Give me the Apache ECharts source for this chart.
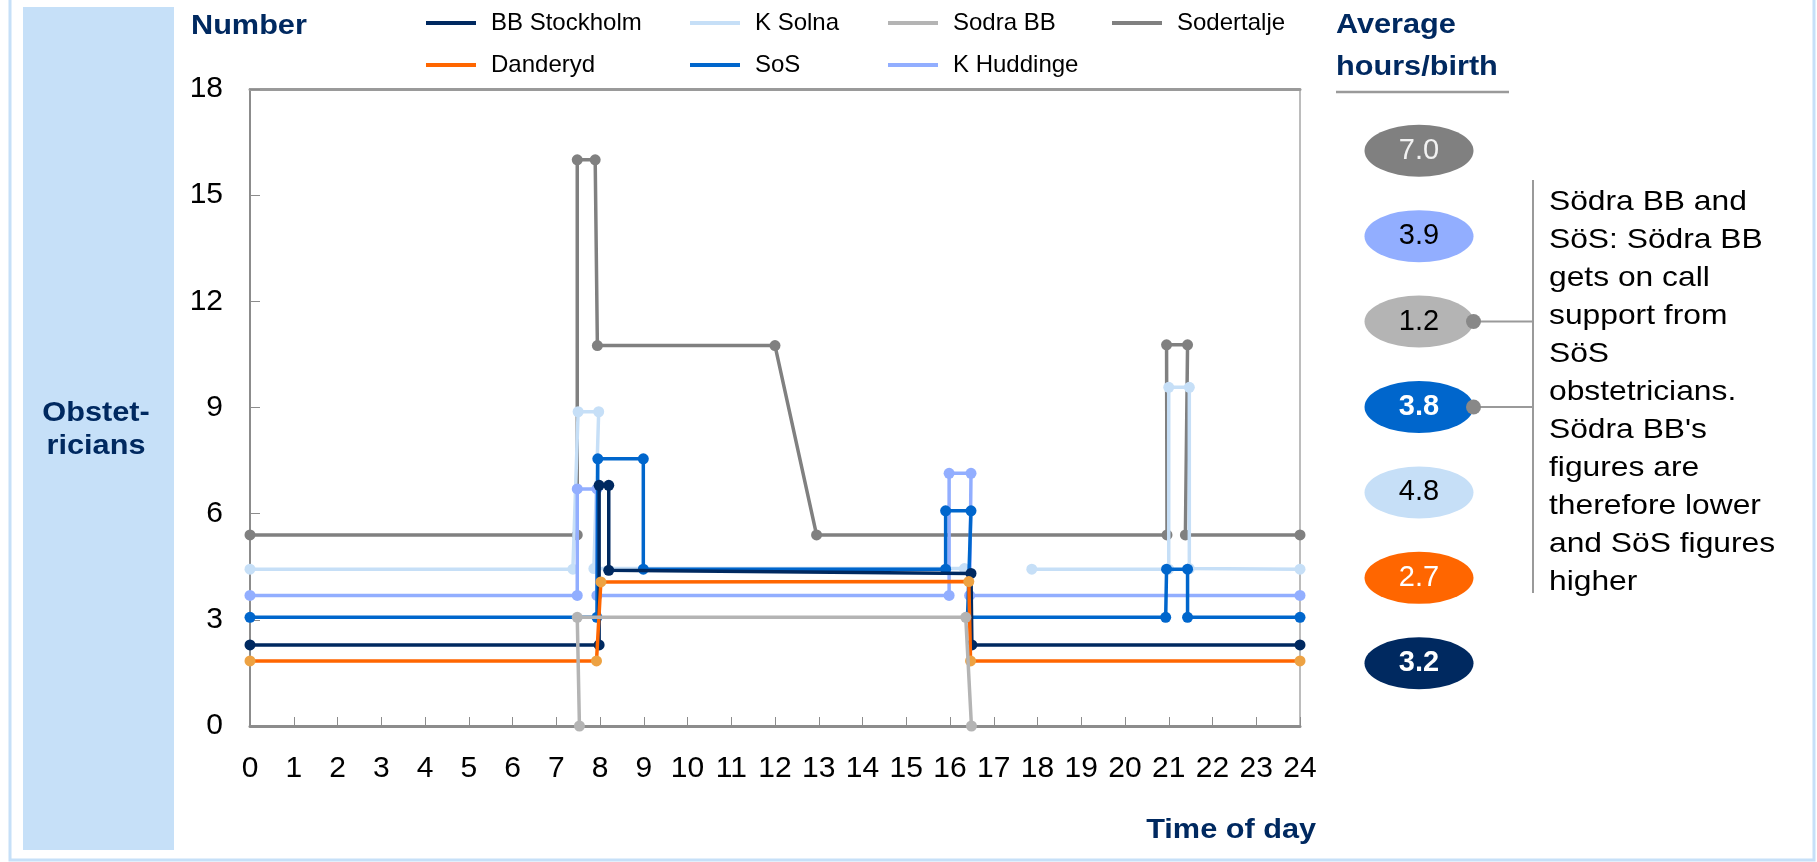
<!DOCTYPE html>
<html>
<head>
<meta charset="utf-8">
<script src="https://cdn.jsdelivr.net/npm/echarts@6/dist/echarts.min.js"></script>
<style>
  html, body { margin: 0; padding: 0; background: #ffffff; }
  #chart { width: 1817px; height: 862px; }
</style>
</head>
<body>
<div id="chart"></div>
<script>
// Obstetricians on duty per unit over the day, as step traces of (hour, count)
const bbStockholmTime  = [0, 7.98, 7.98, 8.2, 8.2, 16.48, 16.5, 24];
const bbStockholmCount = [2.29, 2.29, 6.8, 6.8, 4.4, 4.31, 2.29, 2.29];

const kSolnaTime  = [0, 7.38, 7.5, 7.97, 7.86, 16.33, 17.1, 17.87, 21.0, 21.0, 21.47, 21.47, 24];
const kSolnaCount = [4.43, 4.43, 8.88, 8.88, 4.45, 4.45, null, 4.43, 4.43, 9.57, 9.57, 4.45, 4.43];

const sodraBbTime  = [7.53, 7.48, 16.36, 16.49];
const sodraBbCount = [0, 3.07, 3.07, 0];

const sodertaljeTime  = [0, 7.48, 7.48, 7.89, 7.94, 12, 12.95, 20.96, 20.95, 21.43, 21.38, 24];
const sodertaljeCount = [5.4, 5.4, 16, 16, 10.75, 10.75, 5.4, 5.4, 10.77, 10.77, 5.4, 5.4];

const danderydTime  = [0, 7.92, 8.02, 16.43, 16.47, 24];
const danderydCount = [1.84, 1.84, 4.07, 4.08, 1.84, 1.84];

const sosTime  = [0, 7.93, 7.95, 8.99, 8.99, 15.9, 15.9, 16.48, 16.4, 20.93, 20.95, 21.43, 21.43, 24];
const sosCount = [3.07, 3.07, 7.55, 7.55, 4.43, 4.43, 6.08, 6.08, 3.07, 3.07, 4.43, 4.43, 3.07, 3.07];

const kHuddingeTime  = [0, 7.48, 7.48, 7.93, 7.93, 15.98, 15.98, 16.48, 16.45, 24];
const kHuddingeCount = [3.69, 3.69, 6.7, 6.7, 3.69, 3.69, 7.14, 7.14, 3.69, 3.69];

// Average hours per birth, top to bottom
const avgUnits = ['Sodertalje', 'K Huddinge', 'Sodra BB', 'SoS', 'K Solna', 'Danderyd', 'BB Stockholm'];
const avgHours = [7.0, 3.9, 1.2, 3.8, 4.8, 2.7, 3.2];

// Legend order (two rows)
const legendOrder = ['BB Stockholm', 'K Solna', 'Sodra BB', 'Sodertalje', 'Danderyd', 'SoS', 'K Huddinge'];

// Units joined by the note on the right
const notedUnits = ['Sodra BB', 'SoS'];
const noteText = 'Södra BB and\nSöS: Södra BB\ngets on call\nsupport from\nSöS\nobstetricians.\nSödra BB\'s\nfigures are\ntherefore lower\nand SöS figures\nhigher';

// ---- styling ----
const FONT = '"Liberation Sans", Arial, Helvetica, sans-serif';
const NAVY = '#002960';
const AXIS_GREY = '#8c8c8c';

const unitStyle = {
  'BB Stockholm': { line: '#002960', dot: '#002960', ellipse: '#002960', text: '#ffffff', weight: 'bold' },
  'K Solna':      { line: '#C6DFF7', dot: '#C6DFF7', ellipse: '#C6DFF7', text: '#000000', weight: 'normal' },
  'Sodra BB':     { line: '#B4B4B4', dot: '#B4B4B4', ellipse: '#B4B4B4', text: '#000000', weight: 'normal' },
  'Sodertalje':   { line: '#808080', dot: '#808080', ellipse: '#808080', text: '#f2f2f2', weight: 'normal' },
  'Danderyd':     { line: '#FF6600', dot: '#EDA243', ellipse: '#FF6600', text: '#ffffff', weight: 'normal' },
  'SoS':          { line: '#0066CC', dot: '#0066CC', ellipse: '#0066CC', text: '#ffffff', weight: 'bold' },
  'K Huddinge':   { line: '#92AEFF', dot: '#92AEFF', ellipse: '#92AEFF', text: '#000000', weight: 'normal' }
};

// drawing order, back to front
const traces = [
  { name: 'Sodertalje',   t: sodertaljeTime,  v: sodertaljeCount },
  { name: 'K Solna',      t: kSolnaTime,      v: kSolnaCount },
  { name: 'K Huddinge',   t: kHuddingeTime,   v: kHuddingeCount },
  { name: 'SoS',          t: sosTime,         v: sosCount },
  { name: 'BB Stockholm', t: bbStockholmTime, v: bbStockholmCount },
  { name: 'Danderyd',     t: danderydTime,    v: danderydCount },
  { name: 'Sodra BB',     t: sodraBbTime,     v: sodraBbCount }
];

function toPairs(t, v) {
  return t.map((x, i) => (v[i] == null ? [x, '-'] : [x, v[i]]));
}

const lineSeries = traces.map((tr, k) => ({
  type: 'line',
  name: tr.name,
  xAxisIndex: 0,
  yAxisIndex: 0,
  data: toPairs(tr.t, tr.v),
  connectNulls: false,
  symbol: 'circle',
  symbolSize: 11,
  showSymbol: true,
  showAllSymbol: true,
  lineStyle: { width: 3.5, color: unitStyle[tr.name].line },
  itemStyle: { color: unitStyle[tr.name].dot },
  emphasis: { disabled: true },
  z: 2 + k
}));

const ellipseSeries = {
  type: 'scatter',
  xAxisIndex: 2,
  yAxisIndex: 2,
  symbol: 'circle',
  symbolSize: [109, 52],
  silent: true,
  data: avgUnits.map((u, i) => ({
    value: [0, u],
    hours: avgHours[i],
    itemStyle: { color: unitStyle[u].ellipse, opacity: 1 },
    label: { color: unitStyle[u].text, fontWeight: unitStyle[u].weight }
  })),
  label: {
    show: true,
    position: 'inside',
    fontFamily: FONT,
    fontSize: 29,
    formatter: p => p.data.hours.toFixed(1)
  },
  z: 5
};

// legend slots: columns and row tops
const legendCols = [426, 690, 888, 1112];
const legendRowsTop = [11, 53];
const legends = legendOrder.map((name, i) => ({
  show: true,
  data: [{ name: name, icon: 'rect', itemStyle: { color: unitStyle[name].line, borderWidth: 0 } }],
  left: legendCols[i % 4],
  top: legendRowsTop[i < 4 ? 0 : 1],
  orient: 'horizontal',
  padding: 0,
  itemWidth: 50,
  itemHeight: 4,
  selectedMode: false,
  textStyle: { fontFamily: FONT, fontSize: 24, color: '#000', padding: [0, 0, 0, 10] }
}));

const headFont = 'bold 27.5px ' + FONT;
const HEAD_SX = 1.115;

const option = {
  animation: false,
  backgroundColor: '#ffffff',
  legend: legends,
  grid: [
    { left: 250, top: 89, width: 1050, height: 637, show: false },
    { left: 1364.5, top: 108, width: 109, height: 598, show: false }
  ],
  xAxis: [
    {
      type: 'value', gridIndex: 0, min: 0, max: 24, interval: 1,
      axisLine: { show: true, onZero: false, lineStyle: { color: AXIS_GREY, width: 3 } },
      axisTick: { show: true, inside: true, length: 9, lineStyle: { color: AXIS_GREY, width: 1 } },
      axisLabel: { fontFamily: FONT, fontSize: 30, color: '#000', margin: 28, showMinLabel: true, showMaxLabel: true },
      splitLine: { show: false }
    },
    {
      type: 'value', gridIndex: 0, position: 'top', min: 0, max: 24,
      axisLine: { show: true, onZero: false, lineStyle: { color: '#9a9a9a', width: 3 } },
      axisTick: { show: false }, axisLabel: { show: false }, splitLine: { show: false }
    },
    { type: 'value', gridIndex: 1, min: -1, max: 1, show: false }
  ],
  yAxis: [
    {
      type: 'value', gridIndex: 0, min: 0, max: 18, interval: 3,
      axisLine: { show: true, onZero: false, lineStyle: { color: AXIS_GREY, width: 2 } },
      axisTick: { show: true, inside: true, length: 10, lineStyle: { color: AXIS_GREY, width: 1 } },
      axisLabel: { fontFamily: FONT, fontSize: 30, color: '#000', margin: 27 },
      splitLine: { show: false }
    },
    {
      type: 'value', gridIndex: 0, position: 'right', min: 0, max: 18,
      axisLine: { show: true, onZero: false, lineStyle: { color: '#a6a6a6', width: 1.5 } },
      axisTick: { show: false }, axisLabel: { show: false }, splitLine: { show: false }
    },
    { type: 'category', gridIndex: 1, data: avgUnits, inverse: true, show: false }
  ],
  series: lineSeries.concat([ellipseSeries]),
  graphic: [
    // side band and frame
    { type: 'rect', shape: { x: 23, y: 7, width: 151, height: 843 }, style: { fill: '#C6E0F8' }, z: -10, silent: true },
    { type: 'rect', shape: { x: 10, y: -30, width: 1804, height: 890 }, style: { fill: 'none', stroke: '#C6E0F8', lineWidth: 3 }, z: -10, silent: true },
    // titles
    { type: 'text', x: 191, y: 26, scaleX: HEAD_SX, style: { text: 'Number', font: headFont, fill: NAVY, align: 'left', verticalAlign: 'middle' } },
    { type: 'text', x: 96, y: 430, scaleX: HEAD_SX, style: { text: 'Obstet-\nricians', font: headFont, fill: NAVY, align: 'center', verticalAlign: 'middle', lineHeight: 33 } },
    { type: 'text', x: 1316, y: 830, scaleX: HEAD_SX, style: { text: 'Time of day', font: headFont, fill: NAVY, align: 'right', verticalAlign: 'middle' } },
    { type: 'text', x: 1336, y: 5, scaleX: HEAD_SX, style: { text: 'Average\nhours/birth', font: headFont, fill: NAVY, align: 'left', verticalAlign: 'top', lineHeight: 41.5 } },
    { type: 'line', shape: { x1: 1336, y1: 92, x2: 1509, y2: 92 }, style: { stroke: '#9a9a9a', lineWidth: 2.5 } },
    // note
    { type: 'line', shape: { x1: 1533, y1: 180, x2: 1533, y2: 593 }, style: { stroke: '#9a9a9a', lineWidth: 2 } },
    { type: 'text', x: 1549, y: 183.5, scaleX: HEAD_SX, style: { text: noteText, font: '28.5px ' + FONT, fill: '#000', align: 'left', verticalAlign: 'top', lineHeight: 38 } }
  ]
};

const chart = echarts.init(document.getElementById('chart'), null, { renderer: 'canvas' });
chart.setOption(option);

// connectors from the noted ellipses to the note bracket
const halfEllipse = 109 / 2;
const connectors = [];
notedUnits.forEach(u => {
  const c = chart.convertToPixel({ xAxisIndex: 2, yAxisIndex: 2 }, [0, u]);
  const dotX = c[0] + halfEllipse;
  connectors.push({ type: 'line', shape: { x1: dotX, y1: c[1], x2: 1533, y2: c[1] }, style: { stroke: '#9a9a9a', lineWidth: 2 }, z: 10 });
  connectors.push({ type: 'circle', shape: { cx: dotX, cy: c[1], r: 7.5 }, style: { fill: '#888888' }, z: 11 });
});
chart.setOption({ graphic: option.graphic.concat(connectors) }, { replaceMerge: ['graphic'] });
</script>
</body>
</html>
